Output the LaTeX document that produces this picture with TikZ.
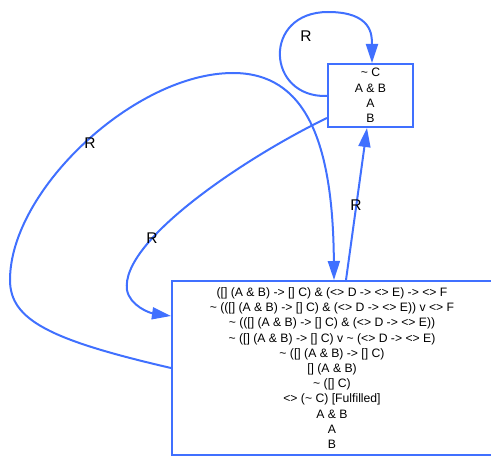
\documentclass[tikz,border=0pt]{standalone}
\usepackage{fontspec}
\setmainfont{Liberation Sans}
\usetikzlibrary{arrows.meta}
\definecolor{eblue}{RGB}{64,112,255}
\begin{document}
\begin{tikzpicture}[x=1pt,y=-1pt,
  state/.style={draw=eblue,line width=2pt,inner sep=0pt,align=center,font=\fontsize{12.2}{15.2}\selectfont},
  edge/.style={draw=eblue,line width=2pt,-{Triangle[length=19pt,width=12pt]}},
  lbl/.style={font=\fontsize{15.5}{15.5}\selectfont,inner sep=0pt}]
\useasboundingbox (0,0) rectangle (491,457);
\node[state,minimum width=85pt,minimum height=63pt] (top) at (370.5,95.5) {\textasciitilde{} C\\A \& B\\A\\B};
\node[state,minimum width=320pt,minimum height=174pt] (bot) at (332,368)
 {({[]} (A \& B) -> {[]} C) \& (<> D -> <> E) -> <> F\\
  \textasciitilde{} (({[]} (A \& B) -> {[]} C) \& (<> D -> <> E)) v <> F\\
  \textasciitilde{} (({[]} (A \& B) -> {[]} C) \& (<> D -> <> E))\\
  \textasciitilde{} ({[]} (A \& B) -> {[]} C) v \textasciitilde{} (<> D -> <> E)\\
  \textasciitilde{} ({[]} (A \& B) -> {[]} C)\\
  {[]} (A \& B)\\
  \textasciitilde{} ({[]} C)\\
  <> (\textasciitilde{} C) {[}Fulfilled{]}\\
  A \& B\\
  A\\
  B};
\coordinate (t1) at (top.west |- 0,96);
\coordinate (t2) at (372,0 |- top.north);
\coordinate (t3) at (top.west |- 0,118);
\coordinate (b1) at (bot.west |- 0,316);
\coordinate (b2) at (346,0 |- bot.north);
\coordinate (t4) at (367,0 |- top.south);
\coordinate (b3) at (bot.west |- 0,368);
\coordinate (b4) at (334,0 |- bot.north);
% top self loop
\draw[edge] (t1) .. controls (266,98) and (262,12) .. (328,12) .. controls (372,12) and (372,35) .. (t2);
\node[lbl] (l1) at (306,36) {R};
% top -> bottom
\draw[edge] (t3) .. controls (250,155) and (120,240) .. (127,290) .. controls (130,306) and (150,313) .. (b1);
\node[lbl] (l2) at (152,238) {R};
% bottom -> top
\draw[edge] (b2) -- (t4);
\node[lbl] (l3) at (356,205) {R};
% bottom self loop
\draw[edge] (b3) .. controls (50,340) and (10,320) .. (10,280) .. controls (10,190) and (135,73) .. (233,73) .. controls (305,73) and (333,140) .. (b4);
\node[lbl] (l4) at (90,143) {R};
\end{tikzpicture}
\end{document}
